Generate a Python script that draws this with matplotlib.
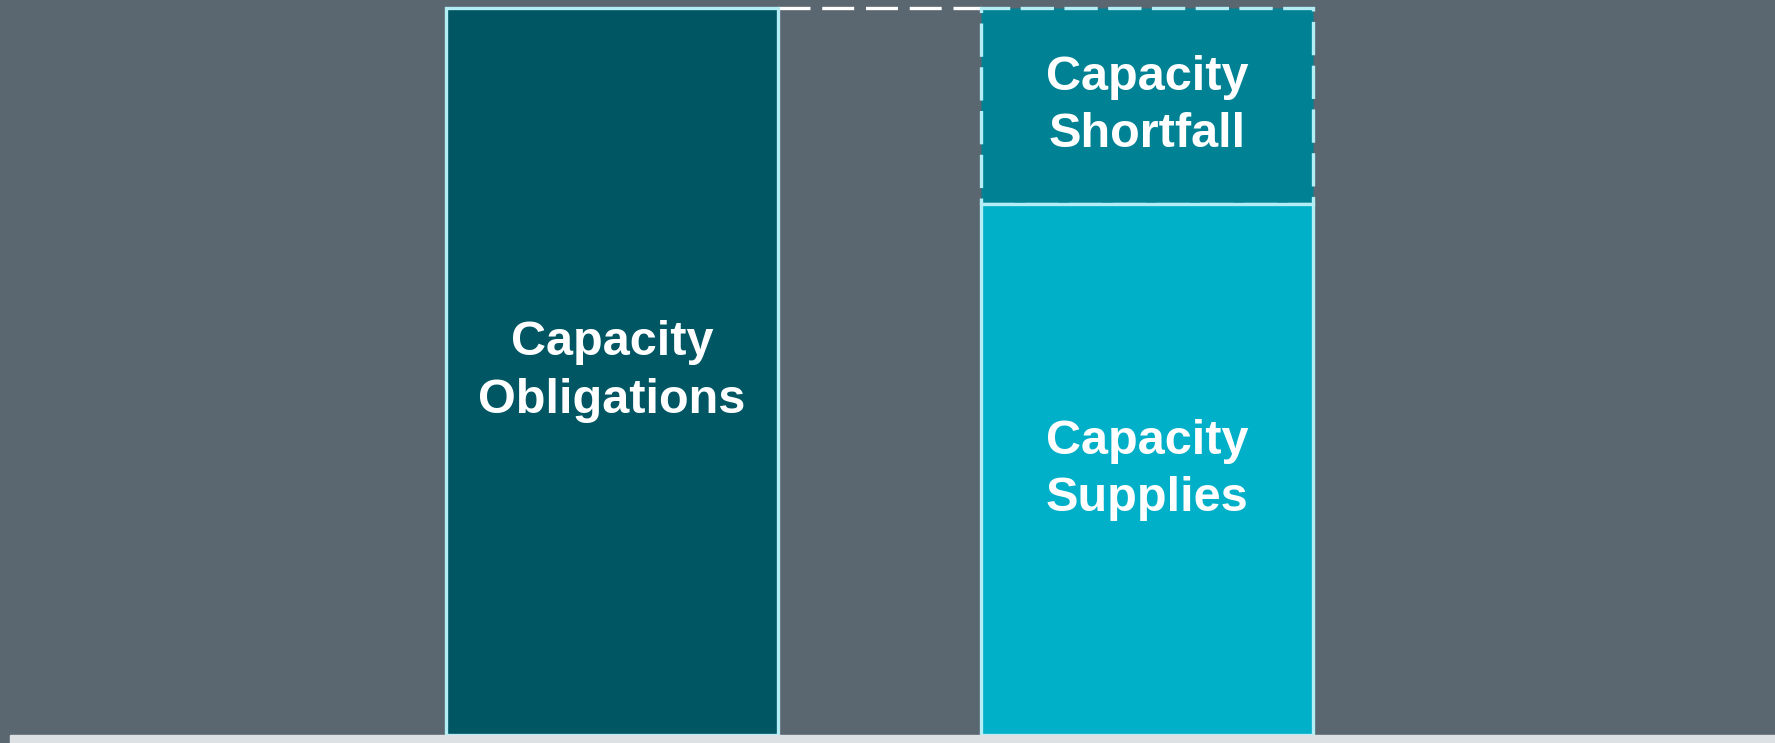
import matplotlib.pyplot as plt

# Bar data (share of obligations)
categories = ['Obligations', 'Supply']
obligations = 100
supplies = 73
shortfall = 27

labels = ['Capacity\nObligations', 'Capacity\nSupplies', 'Capacity\nShortfall']

bg = '#5b6770'
edge = '#b3eef6'

plt.rcParams['font.family'] = ['Liberation Sans', 'DejaVu Sans']

fig = plt.figure(figsize=(17.75, 7.43), dpi=100, facecolor=bg)
ax = fig.add_axes([0, 0, 1, 1])
ax.set_facecolor(bg)

x = [0, 1]
w = 0.62
lw = 2.4

# Obligations bar
ax.bar(x[0], obligations, width=w, color='#005663', edgecolor=edge, linewidth=lw, zorder=2)
# Supplies bar
ax.bar(x[1], supplies, width=w, color='#00afc8', edgecolor=edge, linewidth=lw, zorder=3)
# Shortfall bar with dashed outline
ax.bar(x[1], shortfall, bottom=supplies, width=w, color='#008294', edgecolor=edge,
       linewidth=lw, linestyle=(0, (24 / lw, 7.5 / lw)), zorder=2)

# Dashed connector between the two tops
ax.plot([x[0] + w / 2, x[1] - w / 2], [obligations, obligations], color='white',
        linewidth=lw, linestyle=(0, (23 / lw, 8.5 / lw)), zorder=1)

# Labels
txt = dict(color='white', fontsize=35, fontweight='bold', ha='center', va='center',
           linespacing=1.35, zorder=5)
ax.text(x[0], obligations / 2, labels[0], **txt)
ax.text(x[1], supplies / 2, labels[1], **txt)
ax.text(x[1], supplies + shortfall / 2, labels[2], **txt)

ax.set_xlim(-1.144, 2.174)
ax.set_ylim(-1.1, 101.1)

# Light baseline band
ax.axhspan(-1.1, -0.05, xmin=10 / 1775, xmax=1, color='#dde1e4', zorder=4)

ax.axis('off')

plt.savefig('out.png', dpi=100, facecolor=bg)
